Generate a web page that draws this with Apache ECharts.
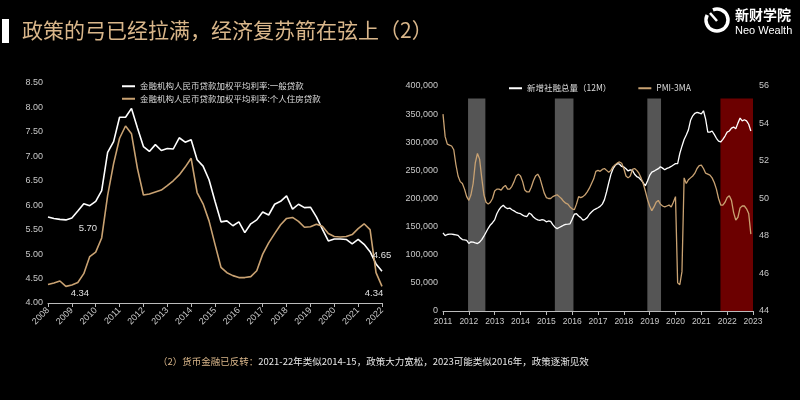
<!DOCTYPE html>
<html><head><meta charset="utf-8">
<script src="https://cdn.jsdelivr.net/npm/echarts@6/dist/echarts.min.js"></script>
<style>html,body{margin:0;padding:0;background:#000;}#c{width:800px;height:400px;}</style>
</head><body><div id="c"></div>
<script>
// ---------- Left chart: quarterly weighted loan rates ----------
const quarterStartYear = 2008;
const rateGeneral = [5.76,5.73,5.71,5.70,5.74,5.88,6.03,5.99,6.08,6.30,7.08,7.30,7.80,7.80,7.98,7.58,7.20,7.10,7.24,7.12,7.16,7.15,7.38,7.29,7.34,6.93,6.80,6.52,6.08,5.66,5.68,5.58,5.66,5.44,5.62,5.70,5.86,5.80,6.02,6.08,6.19,5.92,6.02,5.95,5.96,5.76,5.51,5.27,5.31,5.31,5.30,5.21,5.30,5.20,5.05,4.80,4.65];
const rateMortgage = [4.38,4.41,4.45,4.34,4.37,4.42,4.60,4.95,5.04,5.33,6.20,6.85,7.37,7.62,7.46,6.75,6.21,6.23,6.27,6.31,6.40,6.50,6.62,6.78,6.96,6.26,6.03,5.68,5.20,4.73,4.62,4.56,4.52,4.52,4.54,4.66,5.00,5.23,5.42,5.60,5.73,5.75,5.67,5.55,5.56,5.61,5.57,5.42,5.36,5.35,5.36,5.40,5.52,5.62,5.50,4.62,4.34];
const leftNames = ['金融机构人民币贷款加权平均利率:一般贷款','金融机构人民币贷款加权平均利率:个人住房贷款'];

// ---------- Right chart: monthly social financing (12M) and PMI-3MA ----------
const monthStartYear = 2011;
const socialFinancing12M = [139000,134000,136000,136500,136500,136000,135500,134500,130000,127000,126500,125500,
120000,123000,122500,121000,120000,122500,127000,133000,140000,147000,153000,157000,
162000,173000,180000,185000,188000,184000,182000,183000,180000,178000,175500,174000,
173000,170500,168500,168000,174000,172000,167000,164000,162000,161300,162500,161500,
158500,160000,159500,153500,149000,146500,148500,150500,152500,154000,154300,155000,
163000,172000,173000,169000,166000,161500,163000,166000,172000,176000,179500,181500,
183500,186000,190000,198000,212000,228000,243000,253000,259000,262000,261000,257000,
256000,253000,249000,251000,250000,243000,239000,237000,233000,228000,222500,231000,
241000,247000,248500,251000,253000,256500,254000,251000,253500,255000,257000,259500,
262000,262000,280000,293000,305000,313000,322000,339000,347000,351500,353000,352000,
350500,356000,341000,318000,318000,320000,314000,307000,302000,300500,305000,311000,
318000,320000,325000,327000,324000,334000,343000,338000,340000,338000,332000,320000];
const pmi3ma = [54.5,53.3,52.9,52.85,52.8,52.6,51.8,51.2,50.9,50.8,50.5,50.1,
49.9,50.2,50.8,51.9,52.4,52.1,51.1,50.2,49.8,49.7,49.8,50.0,
50.4,50.5,50.5,50.45,50.6,50.7,50.5,50.5,50.65,50.9,51.2,51.3,
51.2,50.9,50.45,50.35,50.35,50.6,50.95,51.2,51.3,51.1,50.7,50.3,
50.05,50.0,50.0,50.1,50.15,50.2,50.1,50.0,49.85,49.75,49.7,49.55,
49.45,49.4,49.7,50.1,50.05,50.1,50.2,50.35,50.55,50.8,51.05,51.45,
51.5,51.45,51.55,51.6,51.5,51.4,51.5,51.7,51.8,51.9,51.95,51.88,
51.6,51.2,51.1,51.2,51.55,51.6,51.5,51.35,51.1,50.8,50.4,49.95,
49.6,49.35,49.55,49.8,49.9,49.7,49.6,49.55,49.6,49.65,49.55,49.8,
50.1,45.5,45.4,46.1,51.1,50.8,51.0,51.1,51.2,51.35,51.6,51.75,
51.78,51.6,51.35,51.3,51.25,51.1,50.85,50.5,50.0,49.65,49.65,49.8,
50.05,50.15,49.9,49.25,48.85,49.0,49.5,49.6,49.6,49.45,49.2,48.1];
const rightNames = ['新增社融总量（12M）','PMI-3MA'];
const grayBands = [[2011.97,2012.64],[2015.33,2016.05],[2018.91,2019.44]];
const redBand = [2021.74,2023.0];
const bandTop = 378000;

// ---------- Texts ----------
const titleText = '政策的弓已经拉满，经济复苏箭在弦上（2）';
const footerHead = '（2）货币金融已反转：';
const footerBody = '2021-22年类似2014-15，政策大力宽松，2023可能类似2016年，政策逐渐见效';

const quarterCats = rateGeneral.map((_, i) => (quarterStartYear + Math.floor(i / 4)) + 'Q' + (i % 4 + 1));
const monthX = i => monthStartYear + i / 12;
const sfData = socialFinancing12M.map((v, i) => [monthX(i), v]);
const pmiData = pmi3ma.map((v, i) => [monthX(i), v]);

const WHITE = '#ffffff', TAN = '#c9a272', GOLD = '#d9b68a', LBL = '#c8c8c8';
const numFont = 'Liberation Sans';

const chart = echarts.init(document.getElementById('c'), null, {renderer: 'canvas'});
chart.setOption({
  backgroundColor: '#000',
  animation: false,
  textStyle: {fontFamily: numFont},
  grid: [
    {left: 48, right: 418, top: 83, bottom: 97},
    {left: 443, right: 47, top: 86, bottom: 89}
  ],
  legend: [
    {data: leftNames, orient: 'vertical', left: 117, top: 77, itemGap: 4, itemWidth: 13, itemHeight: 2, icon: 'rect',
     textStyle: {color: '#dcdcdc', fontSize: 8.5, fontFamily: 'Noto Sans CJK SC'}},
    {data: rightNames, left: 504, top: 79, itemGap: 27, itemWidth: 13, itemHeight: 2, icon: 'rect',
     textStyle: {color: '#dcdcdc', fontSize: 8.5, fontFamily: 'Noto Sans CJK SC'}}
  ],
  xAxis: [
    {type: 'category', gridIndex: 0, data: quarterCats, boundaryGap: false,
     axisLine: {lineStyle: {color: '#bbb', width: 1}},
     axisTick: {interval: (i) => i % 4 === 0, length: 4, lineStyle: {color: '#bbb'}},
     axisLabel: {interval: (i) => i % 4 === 0, formatter: v => v.slice(0, 4), rotate: 45, color: LBL, fontSize: 9, margin: 6},
     splitLine: {show: false}},
    {type: 'value', gridIndex: 1, min: 2011, max: 2023, interval: 1,
     axisLine: {lineStyle: {color: '#bbb', width: 1}},
     axisTick: {length: 4, lineStyle: {color: '#bbb'}},
     axisLabel: {color: LBL, fontSize: 8.5, margin: 6, formatter: v => String(v)},
     splitLine: {show: false}}
  ],
  yAxis: [
    {type: 'value', gridIndex: 0, min: 4, max: 8.5, interval: 0.5,
     axisLine: {show: false}, axisTick: {show: false}, splitLine: {show: false},
     axisLabel: {color: LBL, fontSize: 9, margin: 5, formatter: v => v.toFixed(2)}},
    {type: 'value', gridIndex: 1, min: 0, max: 400000, interval: 50000,
     axisLine: {show: false}, axisTick: {show: false}, splitLine: {show: false},
     axisLabel: {color: LBL, fontSize: 9, margin: 5, formatter: v => v.toLocaleString('en-US')}},
    {type: 'value', gridIndex: 1, min: 44, max: 56, interval: 2, position: 'right',
     axisLine: {show: false}, axisTick: {show: false}, splitLine: {show: false},
     axisLabel: {color: LBL, fontSize: 9, margin: 6}}
  ],
  series: [
    {name: leftNames[0], type: 'line', xAxisIndex: 0, yAxisIndex: 0, data: rateGeneral, showSymbol: false,
     lineStyle: {color: WHITE, width: 1.6}, itemStyle: {color: WHITE},
     markPoint: {symbol: 'circle', symbolSize: 0, silent: true,
       label: {show: true, color: '#e0e0e0', fontSize: 9.5, fontFamily: numFont},
       data: [
         {coord: [quarterCats[3], rateGeneral[3]], label: {formatter: rateGeneral[3].toFixed(2), offset: [22, 8]}},
         {coord: [quarterCats[56], rateGeneral[56]], label: {formatter: rateGeneral[56].toFixed(2), offset: [0, -16]}}
       ]}},
    {name: leftNames[1], type: 'line', xAxisIndex: 0, yAxisIndex: 0, data: rateMortgage, showSymbol: false,
     lineStyle: {color: TAN, width: 1.6}, itemStyle: {color: TAN},
     markPoint: {symbol: 'circle', symbolSize: 0, silent: true,
       label: {show: true, color: '#e0e0e0', fontSize: 9.5, fontFamily: numFont},
       data: [
         {coord: [quarterCats[3], rateMortgage[3]], label: {formatter: rateMortgage[3].toFixed(2), offset: [14, 7]}},
         {coord: [quarterCats[56], rateMortgage[56]], label: {formatter: rateMortgage[56].toFixed(2), offset: [-8, 7]}}
       ]}},
    {name: 'bands', type: 'line', xAxisIndex: 1, yAxisIndex: 1, data: [], z: 1, silent: true,
     markArea: {silent: true, itemStyle: {color: '#555555'},
       data: grayBands.map(b => [{xAxis: b[0], yAxis: 0}, {xAxis: b[1], yAxis: bandTop}])}},
    {name: rightNames[0], type: 'line', xAxisIndex: 1, yAxisIndex: 1, data: sfData, showSymbol: false, z: 2,
     lineStyle: {color: WHITE, width: 1.3}, itemStyle: {color: WHITE}},
    {name: rightNames[1], type: 'line', xAxisIndex: 1, yAxisIndex: 2, data: pmiData, showSymbol: false, z: 2,
     lineStyle: {color: TAN, width: 1.3}, itemStyle: {color: TAN}},
    {name: 'redband', type: 'line', xAxisIndex: 1, yAxisIndex: 1, data: [], z: 5, silent: true,
     markArea: {silent: true, itemStyle: {color: 'rgba(215,0,0,0.5)'},
       data: [[{xAxis: redBand[0], yAxis: 0}, {xAxis: redBand[1], yAxis: bandTop}]]}}
  ],
  graphic: [
    {type: 'rect', left: 2, top: 19, shape: {width: 7, height: 24}, style: {fill: '#ffffff'}},
    {type: 'text', left: 22, top: 20, style: {text: titleText, fill: GOLD, font: '21px "Noto Sans CJK SC"'}},
    {type: 'arc', shape: {cx: 717, cy: 20, r: 11, startAngle: -Math.PI * 0.62, endAngle: Math.PI * 1.15}, style: {stroke: '#fff', lineWidth: 3.5, fill: null}},
    {type: 'line', shape: {x1: 710, y1: 13, x2: 717, y2: 21}, style: {stroke: '#fff', lineWidth: 2.5}},
    {type: 'text', left: 735, top: 8, style: {text: '新财学院', fill: '#fff', font: 'bold 14px "Noto Sans CJK SC"'}},
    {type: 'text', left: 735, top: 25, style: {text: 'Neo Wealth', fill: '#fff', font: '11px "Liberation Sans"'}},
    {type: 'text', left: 158, top: 357, style: {
      text: '{a|' + footerHead + '}{b|' + footerBody + '}',
      rich: {a: {fill: GOLD, fontSize: 9.5, fontFamily: 'Noto Sans CJK SC'},
             b: {fill: '#e6e6e6', fontSize: 9.5, fontFamily: 'Noto Sans CJK SC'}}}}
  ]
});
</script>
</body></html>
